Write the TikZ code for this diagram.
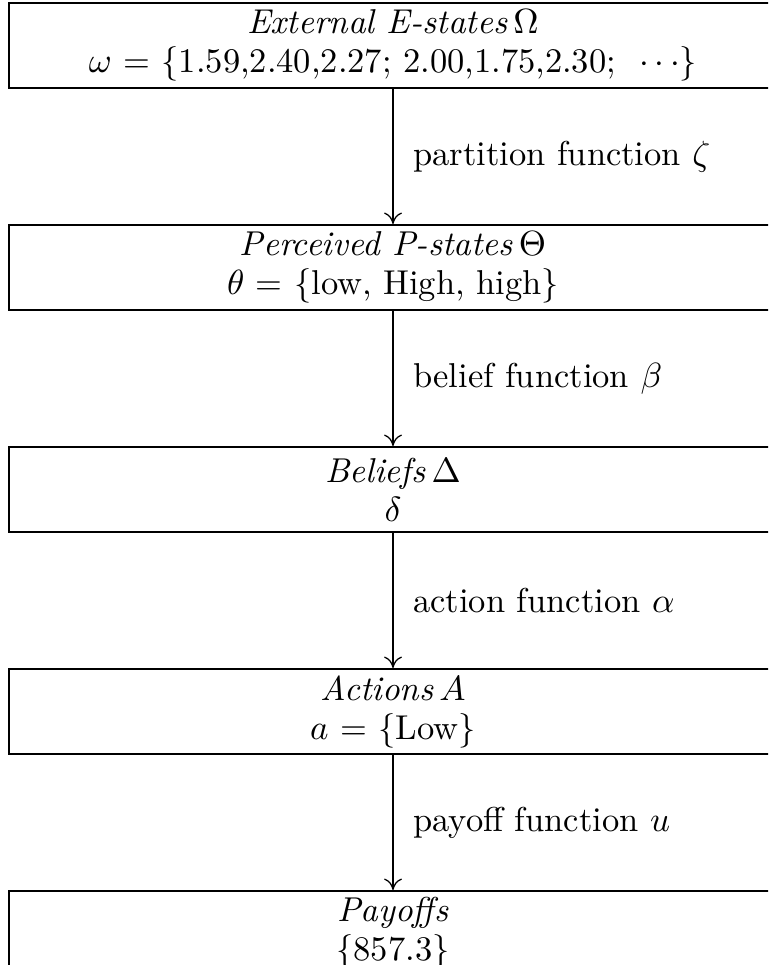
\documentclass[tikz,border=0pt]{standalone}
\usetikzlibrary{positioning, arrows.meta}

\tikzset{
  every node/.style={font=\fontsize{10.8}{12.2}\selectfont},
  stagebox/.style={draw, line width=0.6pt, minimum width=8.45cm, minimum height=0.935cm,
    inner sep=0pt, align=center},
  flowarrow/.style={-{To[length=3.6pt, width=5.6pt]}, line width=0.4pt},
  fnlabel/.style={right=0.1cm, align=left}
}

\begin{document}
\begin{tikzpicture}[x=0.011cm, y=-0.011cm]
    % ventana visible (las cajas se salen por la derecha y por abajo)
    \useasboundingbox (0,0) rectangle (768,965);
    \clip (0,0) rectangle (768,965);

    % Cajas de las etapas
    \node[stagebox] (estates) at (393,45.5)
        {\textit{External E-states}\,$\Omega$\\
         $\omega$ = \{1.59,2.40,2.27; 2.00,1.75,2.30; \ $\cdots$\}};
    \node[stagebox] (pstates) at (393,267.5)
        {\textit{Perceived P-states}\,$\Theta$\\
         $\theta$ = \{low, High, high\}};
    \node[stagebox] (beliefs) at (393,489.5)
        {\textit{Beliefs}\,$\Delta$\\
         $\delta$};
    \node[stagebox] (actions) at (393,711.5)
        {\textit{Actions}\,$A$\\
         $a$ = \{Low\}};
    \node[stagebox] (payoffs) at (393,933.5)
        {\textit{Payoffs}\\
         \{857.3\}};

    % Flechas con sus funciones
    \draw[flowarrow] (estates) -- (pstates) node[midway, fnlabel] {partition function $\zeta$};
    \draw[flowarrow] (pstates) -- (beliefs) node[midway, fnlabel] {belief function $\beta$};
    \draw[flowarrow] (beliefs) -- (actions) node[midway, fnlabel] {action function $\alpha$};
    \draw[flowarrow] (actions) -- (payoffs) node[midway, fnlabel] {payoff function $u$};
\end{tikzpicture}
\end{document}
